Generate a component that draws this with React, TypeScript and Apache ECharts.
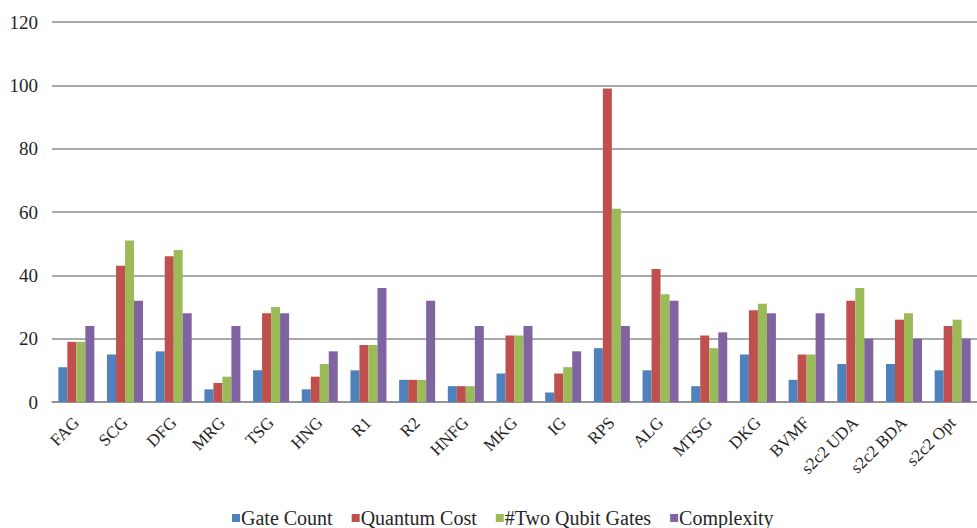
import React, { useEffect, useRef } from "react";
import * as echarts from "echarts";

const categories = [
  "FAG", "SCG", "DFG", "MRG", "TSG", "HNG", "R1", "R2", "HNFG", "MKG",
  "IG", "RPS", "ALG", "MTSG", "DKG", "BVMF", "s2c2 UDA", "s2c2 BDA", "s2c2 Opt",
];

const gateCount = [11, 15, 16, 4, 10, 4, 10, 7, 5, 9, 3, 17, 10, 5, 15, 7, 12, 12, 10];
const quantumCost = [19, 43, 46, 6, 28, 8, 18, 7, 5, 21, 9, 99, 42, 21, 29, 15, 32, 26, 24];
const twoQubitGates = [19, 51, 48, 8, 30, 12, 18, 7, 5, 21, 11, 61, 34, 17, 31, 15, 36, 28, 26];
const complexity = [24, 32, 28, 24, 28, 16, 36, 32, 24, 24, 16, 24, 32, 22, 28, 28, 20, 20, 20];

const yTicks = { min: 0, max: 120, interval: 20 };

const FONT = "Liberation Serif";
const TEXT = "#262626";

export default function App() {
  const ref = useRef<HTMLDivElement>(null);

  useEffect(() => {
    if (!ref.current) return;
    const chart = echarts.init(ref.current, undefined, { renderer: "svg" });

    const mk = (name: string, data: number[], color: string) => ({
      name,
      type: "bar",
      data,
      barWidth: 9,
      barGap: "0%",
      itemStyle: { color },
    });

    chart.setOption({
      animation: false,
      backgroundColor: "#ffffff",
      textStyle: { fontFamily: FONT, color: TEXT },
      grid: { left: 52, top: 22, width: 931, height: 380 },
      legend: {
        top: 508,
        left: 232,
        padding: 0,
        itemWidth: 8,
        itemHeight: 8,
        itemGap: 19,
        icon: "rect",
        textStyle: { fontFamily: FONT, fontSize: 20, color: TEXT, padding: [0, 0, 0, -4] },
        data: ["Gate Count", "Quantum Cost", "#Two Qubit Gates", "Complexity"],
      },
      xAxis: {
        type: "category",
        data: categories,
        axisLine: { lineStyle: { color: "#8c8c8c", width: 1.5 } },
        axisTick: { length: 5, lineStyle: { color: "#8c8c8c", width: 1.5 } },
        axisLabel: {
          rotate: 45,
          interval: 0,
          margin: 18,
          fontFamily: FONT,
          fontSize: 17,
          color: TEXT,
        },
      },
      yAxis: {
        type: "value",
        min: yTicks.min,
        max: yTicks.max,
        interval: yTicks.interval,
        axisLine: { show: false },
        axisTick: { show: false },
        axisLabel: { margin: 14, fontFamily: FONT, fontSize: 19, color: TEXT },
        splitLine: { lineStyle: { color: "#8c8c8c", width: 1.5 } },
      },
      series: [
        mk("Gate Count", gateCount, "#4F81BD"),
        mk("Quantum Cost", quantumCost, "#C0504D"),
        mk("#Two Qubit Gates", twoQubitGates, "#9BBB59"),
        mk("Complexity", complexity, "#8064A2"),
      ],
    });

    return () => chart.dispose();
  }, []);

  return (
    <div
      ref={ref}
      style={{ position: "fixed", left: 0, top: 0, width: 977, height: 528, overflow: "hidden" }}
    />
  );
}
